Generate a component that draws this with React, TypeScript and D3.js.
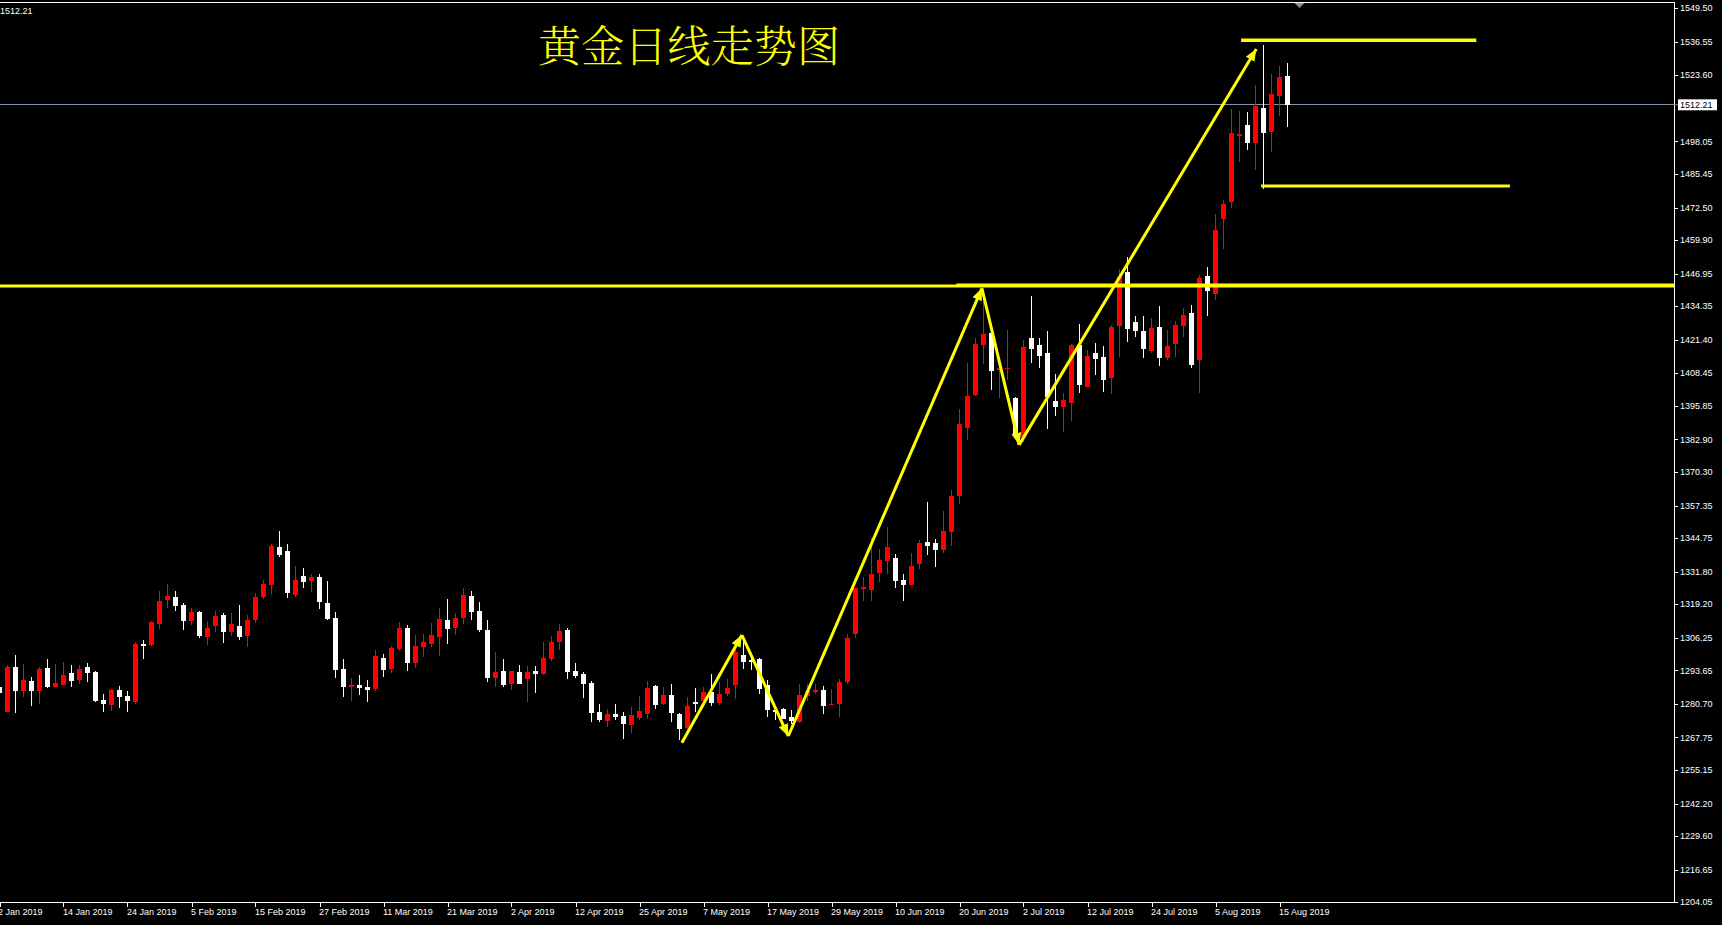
import React from 'react';
import * as d3 from 'd3';

// ---- data (daily gold, 2 Jan 2019 – 16 Aug 2019) ----
const opens = [
  1287.4, 1277.7, 1295.0, 1285.8, 1289.6, 1285.8, 1294.6, 1287.4, 1288.2, 1292.7,
  1290.1, 1295.0, 1293.1, 1282.2, 1280.4, 1286.1, 1283.8, 1281.6, 1303.9, 1303.5,
  1311.7, 1321.0, 1322.0, 1318.9, 1312.9, 1316.2, 1306.7, 1311.0, 1315.1, 1308.6,
  1310.8, 1307.1, 1313.3, 1322.2, 1326.8, 1341.4, 1339.8, 1322.9, 1330.1, 1328.3,
  1329.8, 1319.7, 1313.9, 1294.2, 1287.4, 1288.2, 1287.3, 1286.6, 1298.5, 1294.3,
  1301.9, 1310.1, 1296.7, 1302.7, 1304.0, 1306.6, 1313.1, 1310.1, 1313.9, 1322.4,
  1316.6, 1309.3, 1290.7, 1293.4, 1288.4, 1293.1, 1290.4, 1293.4, 1292.3, 1298.1,
  1304.6, 1309.3, 1293.4, 1292.3, 1288.8, 1277.6, 1274.1, 1276.8, 1276.1, 1272.6,
  1275.3, 1276.8, 1287.6, 1280.7, 1284.2, 1276.8, 1271.4, 1281.5, 1281.9, 1285.3,
  1281.1, 1284.6, 1288.0, 1299.6, 1297.7, 1298.1, 1288.0, 1278.4, 1278.8, 1275.7,
  1273.7, 1283.8, 1285.3, 1286.1, 1280.3, 1280.7, 1289.2, 1307.7, 1325.3, 1324.9,
  1331.4, 1336.1, 1337.1, 1328.6, 1326.8, 1334.9, 1343.3, 1342.9, 1340.3, 1347.3,
  1361.2, 1387.5, 1400.2, 1419.5, 1424.0, 1409.7, 1410.1, 1398.9, 1384.0, 1422.1,
  1419.4, 1416.3, 1397.8, 1395.6, 1397.1, 1419.4, 1403.3, 1416.3, 1414.8, 1406.8,
  1426.9, 1447.6, 1428.3, 1424.8, 1417.2, 1426.4, 1414.5, 1419.9, 1426.9, 1431.8,
  1413.7, 1446.1, 1439.2, 1468.1, 1474.8, 1500.3, 1504.4, 1497.6, 1511.0, 1501.8,
  1515.7, 1523.3,
];
const highs = [
  1288.5, 1295.6, 1299.6, 1296.1, 1291.1, 1295.0, 1298.1, 1296.1, 1296.9, 1295.8,
  1295.8, 1296.5, 1293.4, 1284.6, 1286.5, 1287.6, 1285.7, 1304.6, 1305.4, 1312.8,
  1324.4, 1327.1, 1324.4, 1319.7, 1317.8, 1316.6, 1312.8, 1316.6, 1315.9, 1315.9,
  1318.9, 1315.1, 1323.6, 1328.6, 1342.5, 1347.5, 1342.5, 1334.0, 1333.2, 1330.9,
  1330.9, 1328.2, 1316.2, 1298.1, 1290.7, 1291.9, 1290.0, 1301.6, 1300.0, 1303.1,
  1312.4, 1311.2, 1307.4, 1307.7, 1312.0, 1317.8, 1321.3, 1315.9, 1325.5, 1324.4,
  1320.1, 1313.1, 1300.8, 1298.1, 1293.6, 1295.8, 1295.4, 1295.4, 1304.6, 1307.0,
  1311.6, 1310.1, 1296.5, 1293.1, 1289.6, 1280.7, 1278.8, 1280.7, 1277.6, 1279.5,
  1283.8, 1289.6, 1288.0, 1287.3, 1288.4, 1277.2, 1283.4, 1286.9, 1287.3, 1292.3,
  1289.2, 1290.4, 1305.4, 1305.0, 1300.0, 1298.5, 1290.0, 1279.1, 1279.1, 1278.4,
  1288.4, 1288.4, 1288.4, 1287.6, 1286.5, 1290.4, 1307.7, 1325.6, 1329.9, 1344.7,
  1340.6, 1349.1, 1338.7, 1331.1, 1339.0, 1344.1, 1358.7, 1344.4, 1355.3, 1363.4,
  1394.7, 1412.5, 1422.1, 1440.7, 1424.5, 1411.7, 1425.2, 1399.2, 1421.3, 1438.3,
  1422.1, 1424.8, 1408.2, 1400.9, 1419.6, 1427.5, 1417.5, 1420.2, 1419.0, 1427.1,
  1448.8, 1453.4, 1430.6, 1430.6, 1429.8, 1434.5, 1425.2, 1428.7, 1433.7, 1434.9,
  1446.5, 1449.5, 1470.0, 1475.4, 1510.6, 1509.8, 1509.4, 1519.9, 1535.3, 1524.1,
  1527.2, 1528.4,
];
const lows = [
  1284.5, 1277.4, 1277.3, 1283.5, 1280.0, 1280.8, 1287.0, 1287.2, 1288.0, 1287.4,
  1288.5, 1289.3, 1281.6, 1277.7, 1278.1, 1279.3, 1277.7, 1280.8, 1298.2, 1303.2,
  1309.8, 1317.9, 1316.8, 1309.4, 1311.3, 1306.3, 1303.6, 1308.6, 1304.4, 1307.1,
  1305.5, 1302.8, 1312.1, 1321.4, 1323.3, 1337.6, 1321.8, 1322.2, 1325.6, 1324.1,
  1317.5, 1313.3, 1290.9, 1283.5, 1282.0, 1284.3, 1281.6, 1285.8, 1291.2, 1292.8,
  1301.3, 1293.6, 1294.6, 1298.9, 1302.7, 1299.2, 1303.9, 1307.4, 1311.6, 1313.1,
  1308.5, 1289.2, 1287.3, 1287.3, 1286.1, 1288.3, 1281.5, 1284.9, 1291.9, 1297.3,
  1301.6, 1290.4, 1290.7, 1283.0, 1273.7, 1273.7, 1271.8, 1274.5, 1267.2, 1269.5,
  1274.5, 1274.9, 1278.8, 1280.3, 1273.7, 1266.8, 1271.0, 1277.6, 1280.7, 1279.9,
  1280.3, 1283.8, 1282.6, 1294.2, 1293.8, 1284.6, 1275.7, 1274.5, 1274.7, 1273.0,
  1273.5, 1281.9, 1284.6, 1276.8, 1280.2, 1275.7, 1288.4, 1306.0, 1320.6, 1320.6,
  1328.0, 1331.1, 1325.6, 1320.6, 1326.6, 1333.0, 1338.3, 1333.8, 1339.2, 1341.9,
  1358.1, 1382.8, 1399.8, 1412.2, 1402.1, 1399.1, 1406.0, 1384.5, 1382.0, 1412.6,
  1410.7, 1387.1, 1392.1, 1385.9, 1390.2, 1401.0, 1403.1, 1407.9, 1401.4, 1400.6,
  1414.9, 1420.7, 1422.6, 1414.5, 1416.4, 1411.4, 1413.7, 1414.9, 1422.6, 1410.6,
  1401.0, 1430.7, 1436.9, 1456.6, 1472.5, 1490.2, 1494.9, 1487.2, 1479.8, 1494.1,
  1508.0, 1503.8,
];
const closes = [
  1285.1, 1295.0, 1285.8, 1290.0, 1285.8, 1294.2, 1287.4, 1288.8, 1291.9, 1289.7,
  1294.2, 1292.8, 1282.0, 1280.8, 1286.1, 1283.5, 1282.0, 1303.9, 1303.2, 1312.4,
  1320.5, 1322.4, 1318.7, 1312.9, 1316.2, 1307.1, 1310.1, 1314.7, 1308.6, 1311.6,
  1306.7, 1313.1, 1322.0, 1327.1, 1341.7, 1338.4, 1323.7, 1328.6, 1328.0, 1329.8,
  1320.2, 1313.7, 1294.0, 1287.4, 1288.2, 1287.0, 1286.2, 1299.2, 1294.0, 1302.3,
  1310.2, 1296.7, 1303.1, 1304.6, 1307.4, 1313.5, 1309.7, 1313.9, 1322.8, 1316.2,
  1309.3, 1290.7, 1293.1, 1288.0, 1293.4, 1288.4, 1293.1, 1292.3, 1298.5, 1304.6,
  1308.9, 1293.1, 1291.5, 1288.4, 1277.2, 1274.5, 1276.8, 1275.7, 1273.0, 1276.4,
  1278.0, 1286.9, 1280.3, 1284.2, 1277.2, 1271.0, 1279.9, 1280.7, 1285.3, 1281.1,
  1284.6, 1286.9, 1300.8, 1296.9, 1296.9, 1286.5, 1278.4, 1277.6, 1274.9, 1274.1,
  1284.2, 1285.7, 1286.1, 1279.9, 1280.7, 1289.2, 1306.2, 1325.4, 1325.9, 1330.9,
  1336.3, 1341.4, 1328.3, 1326.8, 1334.0, 1342.9, 1341.9, 1340.3, 1347.5, 1361.1,
  1388.9, 1399.7, 1419.8, 1423.7, 1409.5, 1410.5, 1410.7, 1384.8, 1418.6, 1418.0,
  1415.3, 1399.4, 1395.6, 1398.2, 1419.4, 1404.1, 1415.2, 1414.1, 1406.0, 1426.4,
  1445.8, 1425.7, 1424.9, 1418.0, 1426.0, 1414.5, 1419.0, 1427.1, 1431.0, 1411.8,
  1445.3, 1440.4, 1463.8, 1473.9, 1501.3, 1500.9, 1497.6, 1511.8, 1501.5, 1516.4,
  1523.0, 1512.21,
];

const xTickIndex = [0, 8, 16, 24, 32, 40, 48, 56, 64, 72, 80, 88, 96, 104, 112, 120, 128, 136, 144, 152, 160];
const xTickLabels = [
  '2 Jan 2019', '14 Jan 2019', '24 Jan 2019', '5 Feb 2019', '15 Feb 2019', '27 Feb 2019',
  '11 Mar 2019', '21 Mar 2019', '2 Apr 2019', '12 Apr 2019', '25 Apr 2019', '7 May 2019',
  '17 May 2019', '29 May 2019', '10 Jun 2019', '20 Jun 2019', '2 Jul 2019', '12 Jul 2019',
  '24 Jul 2019', '5 Aug 2019', '15 Aug 2019',
];
const yTickValues = [
  1549.5, 1536.55, 1523.6, 1498.05, 1485.45, 1472.5, 1459.9, 1446.95, 1434.35, 1421.4,
  1408.45, 1395.85, 1382.9, 1370.3, 1357.35, 1344.75, 1331.8, 1319.2, 1306.25, 1293.65,
  1280.7, 1267.75, 1255.15, 1242.2, 1229.6, 1216.65, 1204.05,
];
const lastPrice = 1512.21;
const title = '黄金日线走势图';

// drawn objects (bar index, price)
const supportPrice = 1442.2;
const supportPrice2 = 1442.8;
const support2StartBar = 119.6;
const topLineBars = [155.2, 184.6];
const topLinePrice = 1537.2;
const lowLineBars = [157.7, 188.8];
const lowLinePrice = 1480.8;
const zigBars = [85.3, 92.8, 98.6, 122.8, 127.45, 157.1];
const zigPrices = [1265.7, 1307.3, 1268.3, 1441.3, 1380.8, 1533.8];

const W = 1722;
const H = 925;
const plotRight = 1674;
const plotTop = 2;
const plotBottom = 902.5;

export default function App() {
  const x = d3.scaleLinear().domain([0, 161]).range([-0.5, 1287.5]);
  const y = d3.scaleLinear().domain([1204.05, 1549.5]).range([902.3, 8.3]);
  const fmt = d3.format('.2f');
  const font = "'Liberation Sans', Arial, sans-serif";
  const yellow = '#ffff00';
  const line = d3.line<[number, number]>().x((d) => x(d[0])).y((d) => y(d[1]));

  const candles = opens.map((o, i) => {
    const c = closes[i];
    const up = c >= o;
    const color = up ? '#ff0000' : '#ffffff';
    const cx = x(i);
    const top = y(Math.max(o, c));
    const bot = y(Math.min(o, c));
    return (
      <g key={i} fill={color}>
        <rect x={cx - 0.5} y={y(highs[i])} width={1} height={Math.max(1, y(lows[i]) - y(highs[i]))} />
        <rect x={cx - 2.5} y={top} width={5} height={Math.max(1, bot - top)} />
      </g>
    );
  });

  const zigSegs = zigBars.slice(1).map((b, k) => {
    const p0: [number, number] = [zigBars[k], zigPrices[k]];
    const p1: [number, number] = [b, zigPrices[k + 1]];
    return (
      <path key={k} d={line([p0, p1]) || ''} stroke={yellow} strokeWidth={3} fill="none" markerEnd="url(#arrowHead)" />
    );
  });

  return (
    <svg width={W} height={H} style={{ position: 'fixed', left: 0, top: 0, background: '#000' }}>
      <defs>
        <marker id="arrowHead" markerUnits="userSpaceOnUse" markerWidth={14} markerHeight={12} refX={12} refY={6} orient="auto">
          <path d="M0,1 L12,6 L0,11 Z" fill={yellow} />
        </marker>
        <clipPath id="plotClip">
          <rect x={0} y={plotTop} width={plotRight} height={plotBottom - plotTop} />
        </clipPath>
      </defs>
      <rect x={0} y={0} width={W} height={H} fill="#000" />

      <g clipPath="url(#plotClip)" shapeRendering="crispEdges">
        {/* current price line */}
        <line x1={0} x2={plotRight} y1={y(lastPrice)} y2={y(lastPrice)} stroke="#8193a6" strokeWidth={1} />
        {candles}
      </g>

      {/* yellow drawn objects */}
      <g clipPath="url(#plotClip)">
        <line x1={0} x2={plotRight} y1={y(supportPrice)} y2={y(supportPrice)} stroke={yellow} strokeWidth={3} />
        <line x1={x(support2StartBar)} x2={plotRight} y1={y(supportPrice2)} y2={y(supportPrice2)} stroke={yellow} strokeWidth={2} />
        <line x1={x(topLineBars[0])} x2={x(topLineBars[1])} y1={y(topLinePrice)} y2={y(topLinePrice)} stroke={yellow} strokeWidth={3.5} />
        <line x1={x(lowLineBars[0])} x2={x(lowLineBars[1])} y1={y(lowLinePrice)} y2={y(lowLinePrice)} stroke={yellow} strokeWidth={3} />
        {zigSegs}
      </g>

      {/* title */}
      <text x={538} y={62} fill={yellow} fontSize={43} fontWeight={300}
        fontFamily="'Noto Serif CJK SC', 'Noto Sans CJK SC', serif" textLength={302} lengthAdjust="spacing">
        {title}
      </text>

      {/* frame */}
      <g shapeRendering="crispEdges" stroke="#ffffff" strokeWidth={1}>
        <line x1={0} x2={plotRight + 0.5} y1={2.5} y2={2.5} />
        <line x1={plotRight + 0.5} x2={plotRight + 0.5} y1={2.5} y2={plotBottom} />
        <line x1={0} x2={plotRight + 0.5} y1={plotBottom} y2={plotBottom} />
      </g>

      {/* shift marker */}
      <path d="M1294.5,3 L1304.5,3 L1299.5,8 Z" fill="#7f8fa0" />

      {/* top-left price */}
      <text x={0} y={14} fill="#ffffff" fontSize={9} fontFamily={font}>{fmt(lastPrice)}</text>

      {/* y axis */}
      <g fontFamily={font} fontSize={9} fill="#ffffff">
        {yTickValues.map((v) => (
          <g key={v}>
            <line x1={plotRight} x2={plotRight + 4} y1={Math.round(y(v)) + 0.5} y2={Math.round(y(v)) + 0.5} stroke="#ffffff" shapeRendering="crispEdges" />
            <text x={1680} y={y(v)} dy="0.35em">{fmt(v)}</text>
          </g>
        ))}
      </g>
      <rect x={1678} y={y(lastPrice) - 5.5} width={39} height={11} fill="#ffffff" />
      <line x1={plotRight} x2={1678} y1={y(lastPrice)} y2={y(lastPrice)} stroke="#8193a6" />
      <text x={1680} y={y(lastPrice)} dy="0.35em" fill="#000" fontSize={9} fontFamily={font}>{fmt(lastPrice)}</text>

      {/* x axis */}
      <g fontFamily={font} fontSize={9} fill="#ffffff">
        {xTickIndex.map((idx, k) => (
          <g key={idx}>
            <line x1={Math.round(x(idx)) + 0.5} x2={Math.round(x(idx)) + 0.5} y1={plotBottom} y2={plotBottom + 4} stroke="#ffffff" shapeRendering="crispEdges" />
            <text x={idx === 0 ? -2 : x(idx) - 0.5} y={915}>{xTickLabels[k]}</text>
          </g>
        ))}
      </g>
    </svg>
  );
}
